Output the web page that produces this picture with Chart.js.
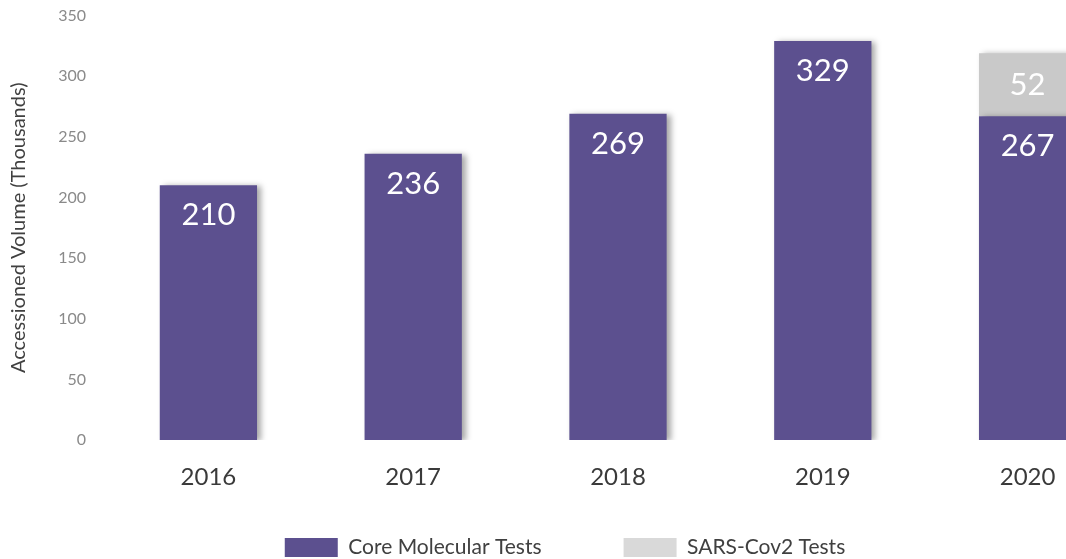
<!DOCTYPE html>
<html>
<head>
<meta charset="utf-8">
<script src="https://cdn.jsdelivr.net/npm/chart.js@4"></script>
<style>
  html, body { margin: 0; padding: 0; background: #fff; overflow: hidden; }
  #wrap { position: absolute; left: 0; top: -6px; width: 1130px; height: 565px; }
</style>
</head>
<body>
<div id="wrap"><canvas id="chart" width="1130" height="565"></canvas></div>
<script>
const years = ["2016", "2017", "2018", "2019", "2020"];
const coreTests = [210, 236, 269, 329, 267];
const sarsTests = [null, null, null, null, 52];
const yTicks = [0, 50, 100, 150, 200, 250, 300, 350];

const PURPLE = "#5c508f";
const GRAY = "#c9c9c9";
const FONT = "Lato, 'Open Sans', sans-serif";

// white value labels drawn inside the bars
const barLabels = {
  id: "barLabels",
  afterDatasetsDraw(chart) {
    const ctx = chart.ctx;
    ctx.save();
    ctx.fillStyle = "#ffffff";
    ctx.font = "31px " + FONT;
    ctx.textAlign = "center";
    ctx.textBaseline = "middle";
    chart.data.datasets.forEach((ds, i) => {
      const meta = chart.getDatasetMeta(i);
      meta.data.forEach((bar, j) => {
        const v = ds.data[j];
        if (v == null) return;
        const y = i === 0 ? bar.y + 30 : (bar.y + bar.base) / 2;
        ctx.fillText(String(v), bar.x, y);
      });
    });
    ctx.restore();
  }
};

// soft drop shadow to the right of the bars
const barShadow = {
  id: "barShadow",
  beforeDatasetsDraw(chart) {
    const ctx = chart.ctx;
    ctx.save();
    ctx.shadowColor = "rgba(0,0,0,0.35)";
    ctx.shadowBlur = 6;
    ctx.shadowOffsetX = 4;
    ctx.shadowOffsetY = 1;
  },
  afterDatasetsDraw(chart) {
    chart.ctx.restore();
  }
};

new Chart(document.getElementById("chart"), {
  type: "bar",
  data: {
    labels: years,
    datasets: [
      { label: "Core Molecular Tests", data: coreTests, backgroundColor: PURPLE },
      { label: "SARS-Cov2 Tests", data: sarsTests, backgroundColor: GRAY }
    ]
  },
  options: {
    responsive: false,
    animation: false,
    layout: { padding: { top: 0, right: 0, bottom: -9, left: 0 } },
    datasets: { bar: { barPercentage: 0.475, categoryPercentage: 1 } },
    scales: {
      x: {
        stacked: true,
        grid: { display: false },
        border: { display: false },
        ticks: {
          color: "#3a3a3a",
          font: { family: FONT, size: 24 },
          padding: 15,
          autoSkip: false,
          maxRotation: 0,
          minRotation: 0
        },
        afterFit(scale) { scale.height = 57; }
      },
      y: {
        stacked: true,
        min: 0,
        max: 350,
        grid: { display: false },
        border: { display: false },
        afterBuildTicks(scale) { scale.ticks = yTicks.map((v) => ({ value: v })); },
        ticks: { color: "#8a8a8a", font: { family: FONT, size: 16 }, padding: 12 },
        title: {
          display: true,
          text: "Accessioned Volume (Thousands)",
          color: "#404040",
          font: { family: FONT, size: 20 },
          padding: { top: 7, bottom: 0 }
        },
        afterFit(scale) { scale.width = 106; }
      }
    },
    plugins: {
      legend: {
        position: "bottom",
        labels: {
          boxWidth: 53,
          boxHeight: 19,
          padding: 40,
          color: "#404040",
          font: { family: FONT, size: 21 },
          generateLabels(chart) {
            const base = Chart.defaults.plugins.legend.labels.generateLabels(chart);
            return base.map((l, i) => Object.assign(l, {
              text: i === 0 ? l.text + "\u2003\u2003\u2002" : l.text,
              fillStyle: i === 1 ? "#d9d9d9" : PURPLE,
              strokeStyle: "transparent",
              lineWidth: 0
            }));
          }
        }
      },
      tooltip: { enabled: false }
    }
  },
  plugins: [barShadow, barLabels]
});
</script>
</body>
</html>
